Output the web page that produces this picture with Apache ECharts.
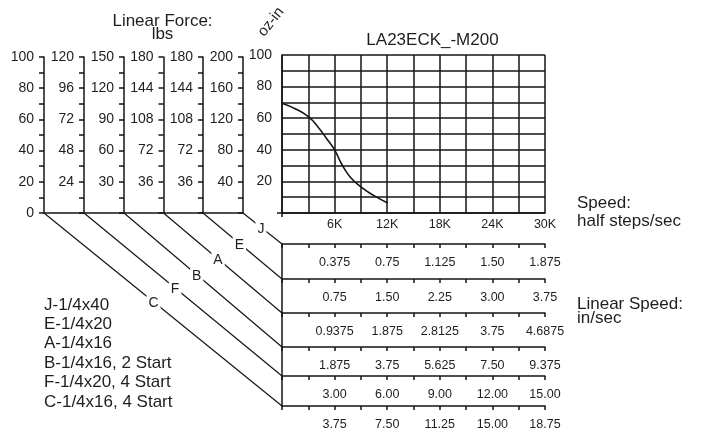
<!DOCTYPE html>
<html>
<head>
<meta charset="utf-8">
<script src="https://cdn.jsdelivr.net/npm/echarts@6/dist/echarts.min.js"></script>
<style>
  html, body { margin: 0; padding: 0; background: #fff; }
  #chart { width: 701px; height: 432px; }
</style>
</head>
<body>
<div id="chart"></div>
<script>
// Pull-out torque curve: speed (half steps/sec) vs torque (oz-in)
const speedHalfSteps = [0, 1500, 3000, 4100, 5100, 6000, 6800, 7750, 9000, 10500, 12000];
const torqueOzIn     = [69.5, 66, 61, 54.5, 47, 40, 31, 23, 16.5, 11, 6.5];
const speedTickLabels = ['6K', '12K', '18K', '24K', '30K'];

// Linear force scales (lbs full scale), left to right, and the lead screw each one belongs to
const forceScaleMax   = [100, 120, 150, 180, 180, 200];
const forceScaleCodes = ['C', 'F', 'B', 'A', 'E', 'J'];

// Linear speed (in/sec) at 6K, 12K, 18K, 24K, 30K half steps/sec, one row per lead screw
const rowCodes = ['J', 'E', 'A', 'B', 'F', 'C'];
const linSpeedJ = ['0.375', '0.75', '1.125', '1.50', '1.875'];
const linSpeedE = ['0.75', '1.50', '2.25', '3.00', '3.75'];
const linSpeedA = ['0.9375', '1.875', '2.8125', '3.75', '4.6875'];
const linSpeedB = ['1.875', '3.75', '5.625', '7.50', '9.375'];
const linSpeedF = ['3.00', '6.00', '9.00', '12.00', '15.00'];
const linSpeedC = ['3.75', '7.50', '11.25', '15.00', '18.75'];
const linSpeedRows = [linSpeedJ, linSpeedE, linSpeedA, linSpeedB, linSpeedF, linSpeedC];

const screwNames = ['J-1/4x40', 'E-1/4x20', 'A-1/4x16', 'B-1/4x16, 2 Start', 'F-1/4x20, 4 Start', 'C-1/4x16, 4 Start'];

// ---- layout ----
const FONT = "'Liberation Sans', Arial, Helvetica, sans-serif";
const INK = '#151515';
const TXT = '#1e1e1e';
const LW = 1.5;
const MAIN = { left: 282, top: 55, width: 263, height: 158 };
const FORCE_X = [44, 84, 124, 163.5, 203, 243];
const FORCE = { left: FORCE_X[0], top: 57, width: FORCE_X[5] - FORCE_X[0], height: 156 };
const ROW_Y = [244, 279, 313, 347, 376, 406];
const TABLE = { left: 282, top: ROW_Y[0], width: 263, height: ROW_Y[5] - ROW_Y[0] };

const line = { color: INK, width: LW };
const noGridOuter = { outerBoundsMode: 'none', containLabel: false };

const chart = echarts.init(document.getElementById('chart'), null, { renderer: 'canvas' });

const xAxes = [];
const yAxes = [];

// main torque chart
xAxes.push({
  type: 'value', gridIndex: 0, min: 0, max: 30000, interval: 3000,
  axisLine: { show: true, onZero: false, lineStyle: line },
  axisTick: { show: false },
  axisLabel: {
    margin: 5, fontSize: 12.5, color: TXT, fontFamily: FONT, showMaxLabel: true, showMinLabel: true,
    formatter: v => (v > 0 && v % 6000 === 0) ? speedTickLabels[v / 6000 - 1] : ''
  },
  splitLine: { show: true, lineStyle: line }
});
yAxes.push({
  type: 'value', gridIndex: 0, min: 0, max: 100, interval: 10,
  axisLine: { show: true, onZero: false, lineStyle: line },
  axisTick: { show: false },
  axisLabel: {
    margin: 10, fontSize: 14, color: TXT, fontFamily: FONT, showMaxLabel: true,
    formatter: v => (v > 0 && v % 20 === 0) ? String(v) : ''
  },
  splitLine: { show: true, lineStyle: line }
});

// linear force scales
xAxes.push({
  type: 'value', gridIndex: 1, min: 0, max: 1,
  axisLine: { show: true, onZero: false, lineStyle: line },
  axisTick: { show: false }, axisLabel: { show: false }, splitLine: { show: false }
});
forceScaleMax.forEach((m, i) => {
  yAxes.push({
    type: 'value', gridIndex: 1, position: 'left', offset: -(FORCE_X[i] - FORCE_X[0]),
    min: 0, max: m, interval: m / 10,
    axisLine: { show: true, onZero: false, lineStyle: line },
    axisTick: { show: true, length: 5, lineStyle: line },
    axisLabel: {
      margin: 10, fontSize: 14, color: TXT, fontFamily: FONT, showMaxLabel: true, showMinLabel: true,
      formatter: v => (v % (m / 5) === 0 && (v > 0 || i === 0)) ? String(v) : ''
    },
    splitLine: { show: false }
  });
});

// linear speed rows
linSpeedRows.forEach((labels, r) => {
  xAxes.push({
    type: 'value', gridIndex: 2, position: 'top', offset: -(ROW_Y[r] - ROW_Y[0]),
    min: 0, max: 30000, interval: 3000,
    axisLine: { show: true, onZero: false, lineStyle: line },
    axisTick: { show: true, inside: true, length: 4, lineStyle: line },
    axisLabel: {
      inside: true, margin: 12.5, fontSize: 12.5, color: TXT, fontFamily: FONT, showMaxLabel: true,
      formatter: v => (v > 0 && v % 6000 === 0) ? labels[v / 6000 - 1] : ''
    },
    splitLine: { show: false }
  });
});
yAxes.push({
  type: 'value', gridIndex: 2, min: 0, max: 1,
  axisLine: { show: true, onZero: false, lineStyle: line },
  axisTick: { show: false }, axisLabel: { show: false }, splitLine: { show: false }
});

chart.setOption({
  animation: false,
  backgroundColor: '#fff',
  grid: [
    Object.assign({}, MAIN, noGridOuter),
    Object.assign({}, FORCE, noGridOuter),
    Object.assign({}, TABLE, noGridOuter)
  ],
  xAxis: xAxes,
  yAxis: yAxes,
  series: [{
    type: 'line', xAxisIndex: 0, yAxisIndex: 0,
    data: speedHalfSteps.map((s, k) => [s, torqueOzIn[k]]),
    smooth: 0.5, showSymbol: false, symbol: 'none', sampling: null,
    lineStyle: { color: INK, width: 1.6, join: 'round', cap: 'round' }
  }]
});

// ---- connectors, captions ----
const txt = (text, x, y, size, align, extra) => Object.assign({
  type: 'text', x, y, silent: true,
  style: { text, font: size + 'px ' + FONT, fill: TXT, align: align || 'center', verticalAlign: 'middle' }
}, extra || {});

const graphics = [];

// diagonal connectors from each force scale foot to its speed row
forceScaleCodes.forEach((code, i) => {
  const y0 = chart.convertToPixel({ yAxisIndex: 1 + i }, 0);
  const x0 = FORCE_X[i];
  const r = rowCodes.indexOf(code);
  const x1 = TABLE.left, y1 = ROW_Y[r];
  graphics.push({
    type: 'line', silent: true,
    shape: { x1: x0, y1: y0, x2: x1, y2: y1 },
    style: { stroke: INK, lineWidth: 1.2 }
  });
  const t = 0.46;
  graphics.push(txt(code, x0 + (x1 - x0) * t, y0 + (y1 - y0) * t + 1.5, 14, 'center', {
    z: 10,
    style: {
      text: code, font: '14px ' + FONT, fill: TXT, align: 'center', verticalAlign: 'middle',
      backgroundColor: '#fff', padding: [1, 2]
    }
  }));
});

// origin cross of the torque chart
const o = chart.convertToPixel({ gridIndex: 0 }, [0, 0]);
graphics.push({ type: 'line', silent: true, shape: { x1: o[0] - 5, y1: o[1], x2: o[0], y2: o[1] }, style: { stroke: INK, lineWidth: LW } });
graphics.push({ type: 'line', silent: true, shape: { x1: o[0], y1: o[1], x2: o[0], y2: o[1] + 4 }, style: { stroke: INK, lineWidth: LW } });

graphics.push(txt('Linear Force:', 162.5, 21, 17));
graphics.push(txt('lbs', 162.5, 34, 17));
graphics.push(txt('oz-in', 271, 22, 15, 'center', { rotation: 52 * Math.PI / 180 }));
graphics.push(txt('LA23ECK_-M200', 432.5, 40, 17));
graphics.push(txt('Speed:', 577, 203, 17, 'left'));
graphics.push(txt('half steps/sec', 577, 221, 17, 'left'));
graphics.push(txt('Linear Speed:', 577, 304, 17, 'left'));
graphics.push(txt('in/sec', 577, 318, 17, 'left'));
screwNames.forEach((name, k) => {
  graphics.push(txt(name, 44, 305 + 19.4 * k, 17, 'left'));
});

chart.setOption({ graphic: graphics });
</script>
</body>
</html>
